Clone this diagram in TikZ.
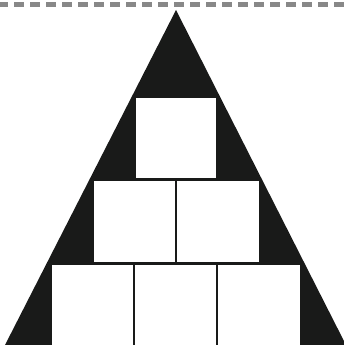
\documentclass[tikz,border=0pt]{standalone}
\definecolor{tridark}{RGB}{25,26,25}
\definecolor{dashgrey}{RGB}{136,136,136}
\begin{document}
\begin{tikzpicture}[x=1pt,y=-1pt,
  tri/.style={fill=tridark, draw=none},
  sq/.style={fill=white, draw=tridark, line width=1pt},
  topline/.style={draw=dashgrey, line width=4.5pt, dash pattern=on 10pt off 6pt}]
\useasboundingbox (0,0) rectangle (344,345);
\fill[white] (0,0) rectangle (344,345);
\coordinate (dl) at (-2,4.5);
\coordinate (dr) at (350,4.5);
\begin{scope}
\clip (0,0) rectangle (344,345);
\draw[topline] (dl) -- (dr);
\end{scope}
\coordinate (apex) at (176,10);
\coordinate (bl) at (5,345);
\coordinate (br) at (346,345);
\fill[tri] (apex) -- (br) -- (bl) -- cycle;
% top square
\draw[sq] (135.5,97.5) rectangle (216.5,178.5);
% middle row
\draw[sq] (93.5,180.5) rectangle (175.5,262.5);
\draw[sq] (176.5,180.5) rectangle (259,262.5);
% bottom row
\draw[sq] (51.5,264) rectangle (133.5,347);
\draw[sq] (134.5,264) rectangle (216.5,347);
\draw[sq] (217.5,264) rectangle (300.5,347);
\end{tikzpicture}
\end{document}
